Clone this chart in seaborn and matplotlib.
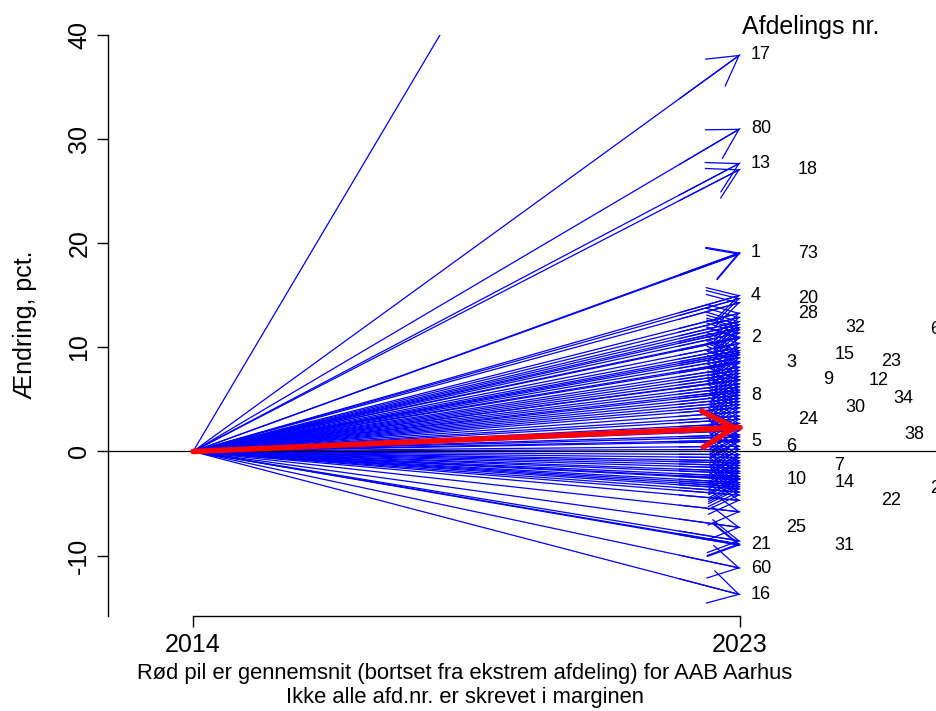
import matplotlib
matplotlib.use("Agg")
import matplotlib.pyplot as plt
import pandas as pd
import seaborn as sns

# Ændring i pct. fra 2014 til 2023 for afdelinger, hvis nummer står i marginen
afdeling = [17, 80, 13, 18, 1, 73, 4, 20, 28, 32, 61, 2, 15, 23, 3, 9, 12,
            8, 34, 30, 24, 38, 5, 6, 7, 10, 14, 26, 22, 25, 21, 31, 60, 16]
aendring = [38.1, 31.0, 27.7, 27.1, 19.1, 19.0, 15.0, 14.7, 13.3, 11.9, 11.7,
            10.9, 9.3, 8.65, 8.5, 6.9, 6.85, 5.4, 5.1, 4.2, 3.1, 1.6, 0.96,
            0.5, -1.35, -2.7, -3.0, -3.6, -4.7, -7.3, -8.9, -9.0, -11.2, -13.75]

# Øvrige afdelinger uden nummer i marginen (første er den ekstreme afdeling)
oevrige = [88.6, 14.3, 12.9, 12.5, 12.2, 11.4, 11.0, 10.4, 10.0, 9.7, 9.5,
           9.0, 8.1, 7.8, 7.5, 7.2, 6.5, 6.2, 5.9, 5.7, 4.8, 4.5, 3.8, 3.4,
           2.7, 2.4, 2.0, 1.4, 1.1, 0.2, -0.3, -0.6, -0.9, -1.1, -1.6, -1.9,
           -2.1, -2.4, -2.6, -3.2, -3.4, -3.9, -4.2, -5.8, -8.6]

# Gennemsnit (bortset fra ekstrem afdeling)
gennemsnit = 2.3

start_aar = 2014
slut_aar = 2023

# Vandret placering (år-akse) af numrene i marginen, i samme rækkefølge som afdeling
margin_x = [2023.18, 2023.18, 2023.18, 2023.95, 2023.18, 2023.95, 2023.18,
            2023.95, 2023.95, 2024.73, 2026.13, 2023.18, 2024.55, 2025.32,
            2023.76, 2024.36, 2025.12, 2023.18, 2025.52, 2024.73, 2023.95,
            2025.71, 2023.18, 2023.76, 2024.55, 2023.76, 2024.55, 2026.13,
            2025.32, 2023.76, 2023.18, 2024.55, 2023.18, 2023.18]

sns.set_theme(style="ticks", rc={
    "axes.edgecolor": "black", "xtick.color": "black", "ytick.color": "black",
    "text.color": "black", "axes.labelcolor": "black",
})
plt.rcParams["font.family"] = ["Liberation Sans", "DejaVu Sans"]
plt.rcParams["axes.unicode_minus"] = False

W, H = 937, 711
fig = plt.figure(figsize=(W / 100, H / 100), dpi=100)
ax = fig.add_axes([108 / W, 1 - 616 / H, (W - 108) / W, (616 - 35) / H])

# Lang tabel: hver afdeling går fra 0 i 2014 til sin ændring i 2023
alle = aendring + oevrige
rows = []
for i, v in enumerate(alle):
    rows.append({"id": i, "aar": start_aar, "aendring": 0.0})
    rows.append({"id": i, "aar": slut_aar, "aendring": v})
df = pd.DataFrame(rows)

sns.lineplot(data=df, x="aar", y="aendring", units="id", estimator=None,
             color="#0000FF", lw=0.9, ax=ax, legend=False, zorder=2)

blue_head = "->,head_length=21,head_width=12"
for v in alle:
    ax.annotate("", xy=(slut_aar, v),
                xytext=(slut_aar - 1, v * (slut_aar - 1 - start_aar) / (slut_aar - start_aar)),
                arrowprops=dict(arrowstyle=blue_head, color="#0000FF", lw=0.9,
                                shrinkA=0, shrinkB=0, mutation_scale=1),
                zorder=2)

ax.axhline(0, color="black", lw=0.9, zorder=2.5)

mean_df = pd.DataFrame({"aar": [start_aar, slut_aar], "aendring": [0.0, gennemsnit]})
sns.lineplot(data=mean_df, x="aar", y="aendring", color="red", lw=4.0,
             ax=ax, legend=False, zorder=3)
ax.annotate("", xy=(slut_aar, gennemsnit),
            xytext=(slut_aar - 1, gennemsnit * (slut_aar - 1 - start_aar) / (slut_aar - start_aar)),
            arrowprops=dict(arrowstyle="->,head_length=23,head_width=13", color="red",
                            lw=4.0, shrinkA=0, shrinkB=0, mutation_scale=1),
            zorder=3)

# Afdelingsnumre i marginen
for nr, v, xp in zip(afdeling, aendring, margin_x):
    ax.text(xp, v, str(nr), ha="left", va="center", fontsize=13, clip_on=False)

px_per_year = (740 - 193) / (slut_aar - start_aar)
ax.set_xlim(start_aar - (193 - 108) / px_per_year, slut_aar + (W - 740) / px_per_year)
ax.set_ylim(-15.8, 40)

ax.set_xticks([start_aar, slut_aar])
ax.set_yticks([-10, 0, 10, 20, 30, 40])
ax.set_xlabel("")
ax.set_ylabel("")
ax.tick_params(axis="both", direction="out", length=8, width=1.0, labelsize=18)
ax.tick_params(axis="x", pad=4)
ax.tick_params(axis="y", pad=4)
for lab in ax.get_yticklabels():
    lab.set_rotation(90)
    lab.set_va("center")
    lab.set_ha("right")

for s in ["top", "right"]:
    ax.spines[s].set_visible(False)
ax.spines["bottom"].set_bounds(start_aar, slut_aar)
ax.spines["left"].set_linewidth(1.0)
ax.spines["bottom"].set_linewidth(1.0)

fig.text(25 / W, 1 - 325 / H, "Ændring, pct.", rotation=90, ha="center",
         va="center", fontsize=18)
fig.text(811 / W, 1 - 27 / H, "Afdelings nr.", ha="center", va="center", fontsize=18)
fig.text(465 / W, 1 - 673 / H,
         "Rød pil er gennemsnit (bortset fra ekstrem afdeling) for AAB Aarhus",
         ha="center", va="center", fontsize=15.8)
fig.text(465 / W, 1 - 697 / H, "Ikke alle afd.nr. er skrevet i marginen",
         ha="center", va="center", fontsize=15.8)

fig.savefig("out.png", dpi=100)
